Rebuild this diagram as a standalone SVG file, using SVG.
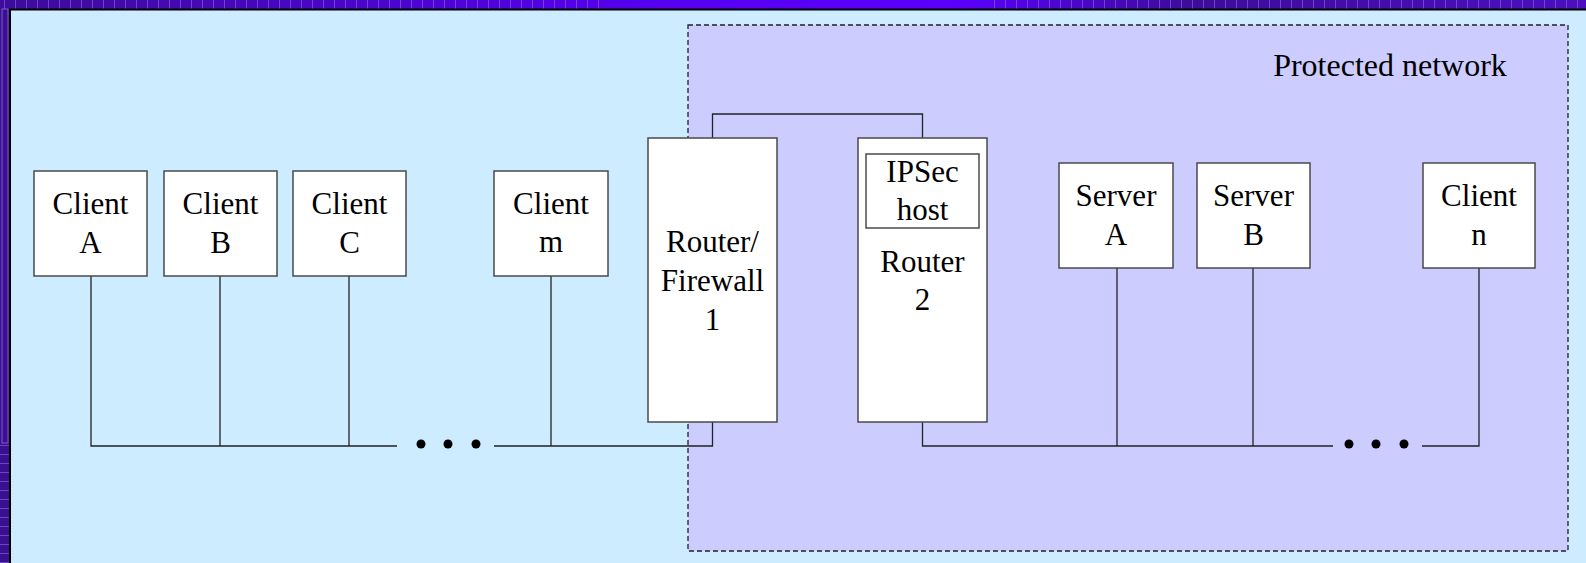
<svg xmlns="http://www.w3.org/2000/svg" width="1586" height="563" viewBox="0 0 1586 563">
<defs>
<pattern id="vstripes" width="11" height="10" patternUnits="userSpaceOnUse">
<rect width="11" height="10" fill="none"/>
<rect x="4" width="1" height="10" fill="#8a6ae0" opacity="0.6"/>
</pattern>
<pattern id="hstripes" width="10" height="9" patternUnits="userSpaceOnUse">
<rect y="4" width="10" height="1" fill="#8a6ae0" opacity="0.6"/>
</pattern>
<linearGradient id="topg" x1="0" y1="0" x2="1" y2="0">
<stop offset="0" stop-color="#3d0c9a"/>
<stop offset="0.4" stop-color="#5500ee"/>
<stop offset="0.6" stop-color="#5a00ff"/>
<stop offset="0.75" stop-color="#3d0c9a"/>
<stop offset="1" stop-color="#4b0fc0"/>
</linearGradient>
</defs>
<style>
.box{fill:#ffffff;stroke:#4a4a4a;stroke-width:1.5}
.ln{fill:none;stroke:#222;stroke-width:1.3}
.t{font-family:"Liberation Serif","Times New Roman",serif;font-size:31px;fill:#000;text-anchor:middle}
.dot{fill:#000}
</style>
<rect width="1586" height="563" fill="#3a1090"/>
<rect width="1586" height="9" fill="url(#topg)"/>
<rect width="600" height="9" fill="url(#vstripes)"/>
<rect x="990" width="596" height="9" fill="url(#vstripes)"/>
<rect y="440" width="10" height="123" fill="url(#hstripes)"/>
<rect x="2" y="9" width="6" height="434" fill="none" stroke="#7a5ad0" stroke-width="1"/>
<rect x="10" y="9" width="1576" height="554" fill="#cdecff"/>
<path d="M10 563 V9.5 H1586" fill="none" stroke="#000" stroke-width="2"/>
<g id="protected-network">
<rect x="688" y="25" width="880" height="526" fill="#ccccff" stroke="#222" stroke-width="1.3" stroke-dasharray="5,3"/>
<text class="t" x="1390" y="76" style="font-size:32px">Protected network</text>
</g>
<g id="connectors">
<path class="ln" d="M712.5 138 V114 H922.5 V138"/>
<path class="ln" d="M91 276 V446 H397"/>
<path class="ln" d="M220 276 V446"/>
<path class="ln" d="M349 276 V446"/>
<path class="ln" d="M494 446 H712.5 V422"/>
<path class="ln" d="M551 276 V446"/>
<path class="ln" d="M922.5 422 V446 H1333"/>
<path class="ln" d="M1117 268 V446"/>
<path class="ln" d="M1253 268 V446"/>
<path class="ln" d="M1422 446 H1479 V268"/>
<circle class="dot" cx="421" cy="444" r="4.5"/>
<circle class="dot" cx="448" cy="444" r="4.5"/>
<circle class="dot" cx="476" cy="444" r="4.5"/>
<circle class="dot" cx="1349" cy="444" r="4.5"/>
<circle class="dot" cx="1376" cy="444" r="4.5"/>
<circle class="dot" cx="1404" cy="444" r="4.5"/>
</g>
<g id="client-a">
<rect class="box" x="34" y="171" width="113" height="105"/>
<text class="t" x="90.5" y="214">Client</text>
<text class="t" x="90.5" y="253">A</text>
</g>
<g id="client-b">
<rect class="box" x="164" y="171" width="113" height="105"/>
<text class="t" x="220.5" y="214">Client</text>
<text class="t" x="220.5" y="253">B</text>
</g>
<g id="client-c">
<rect class="box" x="293" y="171" width="113" height="105"/>
<text class="t" x="349.5" y="214">Client</text>
<text class="t" x="349.5" y="253">C</text>
</g>
<g id="client-m">
<rect class="box" x="494" y="171" width="114" height="105"/>
<text class="t" x="551" y="214">Client</text>
<text class="t" x="551" y="252">m</text>
</g>
<g id="router-firewall-1">
<rect class="box" x="648" y="138" width="129" height="284"/>
<text class="t" x="712.5" y="252">Router/</text>
<text class="t" x="712.5" y="291">Firewall</text>
<text class="t" x="712.5" y="330">1</text>
</g>
<g id="router-2">
<rect class="box" x="858" y="138" width="129" height="284"/>
<text class="t" x="922.5" y="272">Router</text>
<text class="t" x="922.5" y="310">2</text>
</g>
<g id="ipsec-host">
<rect class="box" x="866" y="154" width="113" height="74"/>
<text class="t" x="922.5" y="182">IPSec</text>
<text class="t" x="922.5" y="220">host</text>
</g>
<g id="server-a">
<rect class="box" x="1059" y="163" width="114" height="105"/>
<text class="t" x="1116" y="206">Server</text>
<text class="t" x="1116" y="245">A</text>
</g>
<g id="server-b">
<rect class="box" x="1197" y="163" width="113" height="105"/>
<text class="t" x="1253.5" y="206">Server</text>
<text class="t" x="1253.5" y="245">B</text>
</g>
<g id="client-n">
<rect class="box" x="1423" y="163" width="112" height="105"/>
<text class="t" x="1479" y="206">Client</text>
<text class="t" x="1479" y="245">n</text>
</g>
</svg>
